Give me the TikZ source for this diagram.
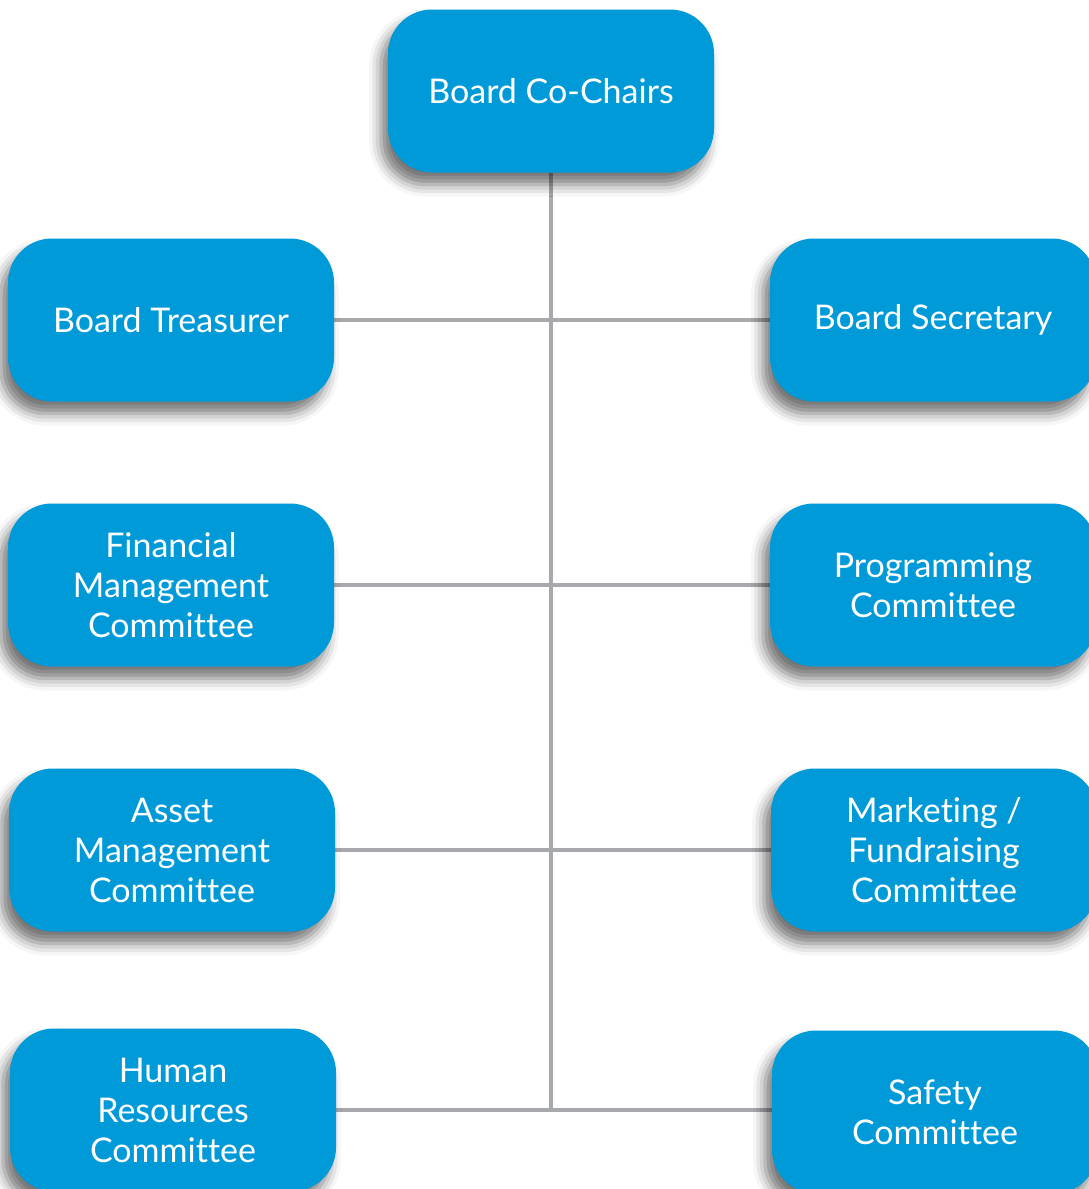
\documentclass[tikz,border=0pt]{standalone}
\usepackage{fontspec}
\setmainfont{Lato}[RawFeature=-liga]
\usetikzlibrary{shadows.blur,backgrounds}
\definecolor{boardblue}{HTML}{009AD8}
\definecolor{linkgray}{HTML}{A7A9AC}
\tikzset{
    post/.style={fill=boardblue, rounded corners=44pt, minimum width=326pt, minimum height=163pt,
        text=white, align=center, inner sep=0pt,
        font=\fontsize{34}{40}\selectfont,
        blur shadow={shadow xshift=-7pt, shadow yshift=-12pt, shadow blur radius=12pt, shadow opacity=55}},
    link/.style={draw=linkgray, line width=4pt}
}
\begin{document}
\begin{tikzpicture}[x=1pt,y=-1pt]
        \useasboundingbox (0,0) rectangle (1089,1189);

        \node[post] (chairs) at (551,91) {Board Co-Chairs};

        \node[post] (treasurer) at (171,320) {Board Treasurer};
        \node[post] (secretary) at (933,320) {Board Secretary};

        \node[post] (finmgmt) at (171,585) {Financial\\Management\\Committee};
        \node[post] (programming) at (933,585) {Programming\\Committee};

        \node[post] (assetmgmt) at (172,850) {Asset\\Management\\Committee};
        \node[post] (marketing) at (934,850) {Marketing /\\Fundraising\\Committee};

        \node[post] (hr) at (173,1110) {Human\\Resources\\Committee};
        \node[post] (safety) at (935,1112) {Safety\\Committee};

        \coordinate (trunk) at (chairs.south |- hr.east);

        \begin{pgfonlayer}{background}
            \draw[link] (chairs.south) -- (trunk);
            \draw[link] (treasurer.east) -- (secretary.west);
            \draw[link] (finmgmt.east) -- (programming.west);
            \draw[link] (assetmgmt.east) -- (marketing.west);
            \draw[link] (hr.east) -- (safety.west |- hr.east);
        \end{pgfonlayer}
\end{tikzpicture}
\end{document}
